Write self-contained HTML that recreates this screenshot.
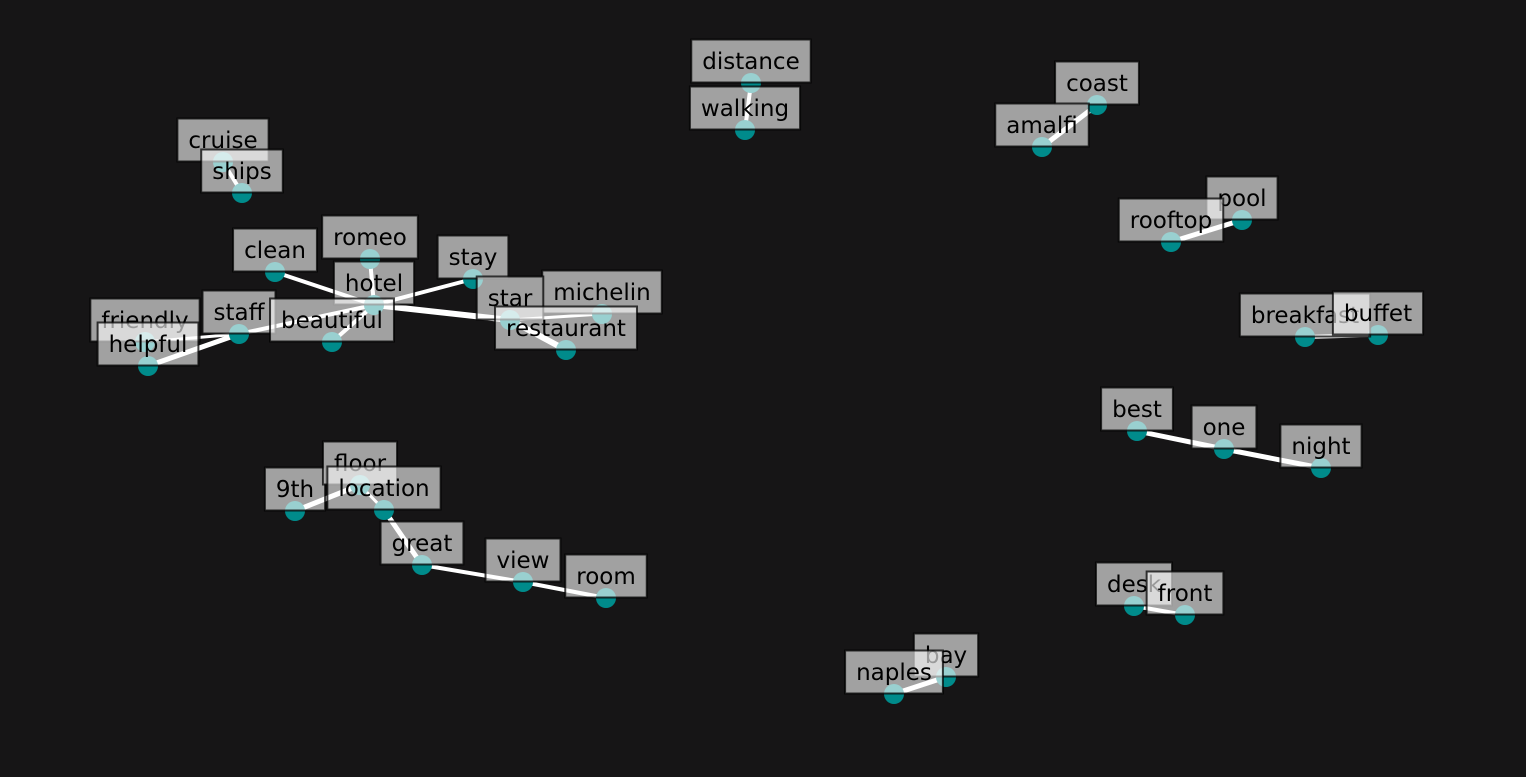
<!DOCTYPE html>
<html><head><meta charset="utf-8"><style>
html,body{margin:0;padding:0;background:#161516;}
svg{display:block;}
text{font-family:"DejaVu Sans","Liberation Sans",sans-serif;font-size:23px;fill:#000;}
</style></head><body>
<svg id="chart" width="1526" height="777" viewBox="0 0 1526 777" xmlns="http://www.w3.org/2000/svg">
<rect width="1526" height="777" fill="#161516"/>
<g id="edges"></g>
<g id="nodes"></g>
<g id="labels"></g>
</svg>
<script>
const nodeNames = ["distance","walking","coast","amalfi","cruise","ships","pool","rooftop","breakfast","buffet","best","one","night","desk","front","bay","naples","9th","floor","location","great","view","room","clean","romeo","hotel","stay","michelin","star","restaurant","staff","beautiful","friendly","helpful"];
const nodeX = [751,745,1097,1042,223,242,1242,1171,1305,1378,1137,1224,1321,1134,1185,946,894,295,360,384,422,523,606,275,370,374,473,602,510,566,239,332,145,148];
const nodeY = [83,130,105,147,162,193,220,242,337,335,431,449,468,606,615,677,694,511,485,510,565,582,598,272,259,305,279,314,320,350,334,342,342,366];
const edgeFrom = ["distance","coast","cruise","pool","breakfast","best","one","desk","bay","9th","floor","location","great","view","clean","romeo","hotel","hotel","hotel","hotel","star","star","staff","friendly"];
const edgeTo   = ["walking","amalfi","ships","rooftop","buffet","one","night","front","naples","floor","location","great","view","room","hotel","hotel","stay","star","beautiful","staff","michelin","restaurant","helpful","staff"];
const edgeWeight = [4,5,4,5,4,5,5,4,5,5,3,5,4,4,4,4,4,6,4,4,3,6,5,3];

const NS="http://www.w3.org/2000/svg";
const eg=document.getElementById('edges'), ng=document.getElementById('nodes'), lg=document.getElementById('labels');
function idx(n){return nodeNames.indexOf(n);}
for(let i=0;i<edgeFrom.length;i++){
  const a=idx(edgeFrom[i]), b=idx(edgeTo[i]);
  const l=document.createElementNS(NS,'line');
  l.setAttribute('x1',nodeX[a]);l.setAttribute('y1',nodeY[a]);
  l.setAttribute('x2',nodeX[b]);l.setAttribute('y2',nodeY[b]);
  l.setAttribute('stroke','#fff');l.setAttribute('stroke-width',edgeWeight[i]);
  
  
  eg.appendChild(l);
}
for(let i=0;i<nodeNames.length;i++){
  const c=document.createElementNS(NS,'circle');
  c.setAttribute('cx',nodeX[i]);c.setAttribute('cy',nodeY[i]);c.setAttribute('r',10);
  c.setAttribute('fill','#008b8b');
  
  
  ng.appendChild(c);
}
for(let i=0;i<nodeNames.length;i++){
  const g=document.createElementNS(NS,'g');
  
  
  const cx=nodeX[i], cy=nodeY[i]-22;
  const r=document.createElementNS(NS,'rect');
  const t=document.createElementNS(NS,'text');
  t.setAttribute('x',cx);t.setAttribute('y',cy+8);t.setAttribute('text-anchor','middle');
  t.textContent=nodeNames[i];
  g.appendChild(r);g.appendChild(t);lg.appendChild(g);
  const w=t.getComputedTextLength()+22;
  r.setAttribute('x',cx-w/2);r.setAttribute('y',cy-21.5);
  r.setAttribute('width',w);r.setAttribute('height',43);
  r.setAttribute('fill','rgba(255,255,255,0.6)');
  r.setAttribute('stroke','rgba(0,0,0,0.75)');r.setAttribute('stroke-width',2);
}
</script>
</body></html>
